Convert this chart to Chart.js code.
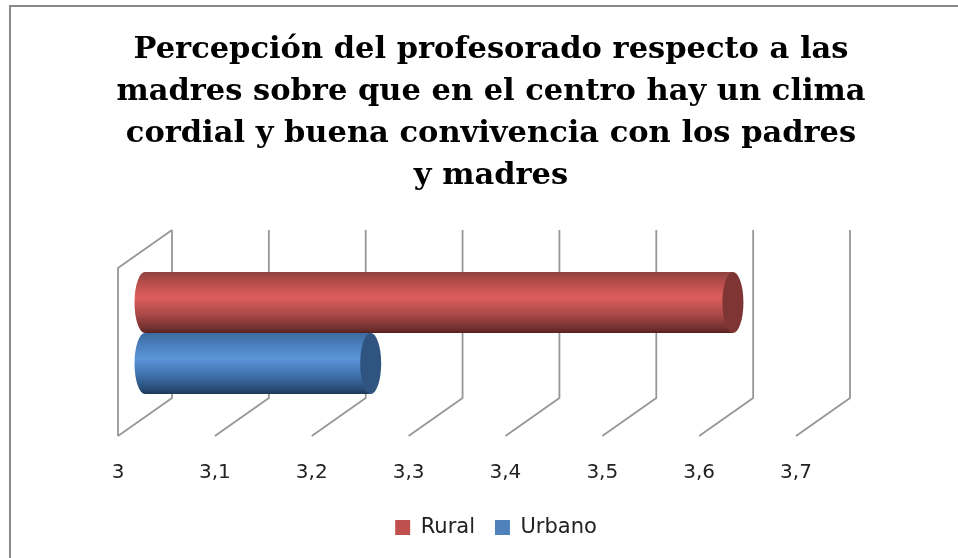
<!DOCTYPE html>
<html>
<head>
<meta charset="utf-8">
<title>Percepción del profesorado</title>
<script src="https://cdn.jsdelivr.net/npm/chart.js@4"></script>
<style>
  html, body { margin: 0; padding: 0; background: #fff; overflow: hidden; }
  #wrap { position: absolute; left: 0; top: 0; width: 982px; height: 558px; }
  #frame { position: absolute; left: 9px; top: 5px; width: 949px; height: 553px; border-left: 2px solid #8a8a8a; border-top: 2px solid #8a8a8a; }
</style>
</head>
<body>
<div id="wrap"><canvas id="chart" width="982" height="558"></canvas></div>
<div id="frame"></div>
<script>
  var titleLines = [
    "Percepción del profesorado respecto a las",
    "madres sobre que en el centro hay un clima",
    "cordial y buena convivencia con los padres",
    "y madres"
  ]
  var categories = [""]
  var ruralValues = [3.607]
  var urbanoValues = [3.233]
  var axisMin = 3
  var axisMax = 3.7
  var axisStep = 0.1

  var depthX = 54
  var depthY = -38
  var capRadius = 10.5

  // walls of the 3d box, taken from the x scale
  function drawWalls(chart) {
    var c = chart.ctx
    var xs = chart.scales.x
    var top = chart.chartArea.top
    var bottom = chart.chartArea.bottom
    c.save()
    c.strokeStyle = "#979797"
    c.lineWidth = 1.8
    xs.ticks.forEach(function(t) {
      var px = xs.getPixelForValue(t.value)
      c.beginPath()
      c.moveTo(px, bottom)
      c.lineTo(px + depthX, bottom + depthY)
      c.lineTo(px + depthX, top + depthY)
      c.stroke()
    })
    var x0 = xs.getPixelForValue(axisMin)
    c.beginPath()
    c.moveTo(x0, bottom)
    c.lineTo(x0, top)
    c.lineTo(x0 + depthX, top + depthY)
    c.stroke()
    c.restore()
  }

  function drawCylinder(c, bar, shades, capColor) {
    var sx = depthX / 2
    var sy = depthY / 2
    var x0 = bar.base + sx
    var x1 = bar.x + sx
    var y0 = bar.y - bar.height / 2 + sy
    var y1 = bar.y + bar.height / 2 + sy
    var ry = bar.height / 2
    var grad = c.createLinearGradient(0, y0, 0, y1)
    shades.forEach(function(s) { grad.addColorStop(s[0], s[1]) })
    c.save()
    c.fillStyle = grad
    c.beginPath()
    c.moveTo(x1, y0)
    c.lineTo(x1, y1)
    c.lineTo(x0, y1)
    c.ellipse(x0, (y0 + y1) / 2, capRadius, ry, 0, Math.PI / 2, Math.PI * 1.5)
    c.closePath()
    c.fill()
    c.fillStyle = capColor
    c.beginPath()
    c.ellipse(x1, (y0 + y1) / 2, capRadius, ry, 0, 0, Math.PI * 2)
    c.fill()
    c.restore()
  }

  var redShades = [[0, "#8e4240"], [0.2, "#bb4f4d"], [0.42, "#dc5e5c"], [0.7, "#a94846"], [0.93, "#702f2d"], [1, "#582220"]]
  var blueShades = [[0, "#3c6aa0"], [0.2, "#4b7fbd"], [0.42, "#5b95d9"], [0.7, "#3f70a9"], [0.93, "#274a72"], [1, "#1d3757"]]
  var capColors = ["#7e3533", "#2f5480"]
  var shadeSets = [redShades, blueShades]

  var box3d = {
    id: "box3d",
    afterLayout: function(chart) {
      // legend sits a little right of the title in the original
      chart.legend.left += 5
      chart.legend.right += 5
    },
    beforeDatasetsDraw: function(chart) { drawWalls(chart) },
    beforeDatasetDraw: function(chart, args) {
      var bars = args.meta.data
      bars.forEach(function(bar) {
        drawCylinder(chart.ctx, bar, shadeSets[args.index], capColors[args.index])
      })
      return false
    }
  }

  var ctx = document.getElementById("chart").getContext("2d")

  var chartData = {
    type: "bar",
    data: {
      labels: categories,
      datasets: [
        { label: "Rural", data: ruralValues, base: axisMin, backgroundColor: "#c0504d" },
        { label: "Urbano", data: urbanoValues, base: axisMin, backgroundColor: "#4f81bd" }
      ]
    },
    options: {
      indexAxis: "y",
      responsive: false,
      animation: false,
      categoryPercentage: 0.726,
      barPercentage: 1,
      layout: { padding: { bottom: 10 } },
      scales: {
        x: {
          min: axisMin,
          max: axisMax,
          grid: { display: false },
          border: { display: false },
          afterFit: function(s) { s.height = 61 },
          ticks: {
            stepSize: axisStep,
            maxRotation: 0,
            padding: 17,
            color: "#222",
            font: { family: "DejaVu Sans", size: 20 },
            callback: function(v) { return String(Math.round(v * 10) / 10).replace(".", ",") }
          }
        },
        y: {
          grid: { display: false },
          border: { display: false },
          ticks: { display: false },
          afterFit: function(s) { s.width = 118 }
        },
        rightPad: {
          position: "right",
          axis: "y",
          grid: { display: false },
          border: { display: false },
          ticks: { display: false },
          afterFit: function(s) { s.width = 186 }
        }
      },
      plugins: {
        tooltip: { enabled: false },
        title: {
          display: true,
          text: titleLines,
          color: "#000",
          font: { family: "DejaVu Serif", size: 30.5, weight: "bold", lineHeight: 1.377 },
          padding: { top: 29, bottom: 71 }
        },
        legend: {
          position: "bottom",
          labels: {
            boxWidth: 15,
            boxHeight: 15,
            color: "#222",
            padding: 20,
            font: { family: "DejaVu Sans", size: 21 }
          }
        }
      }
    },
    plugins: [box3d]
  }

  var madresChart = new Chart(ctx, chartData)
</script>
</body>
</html>
